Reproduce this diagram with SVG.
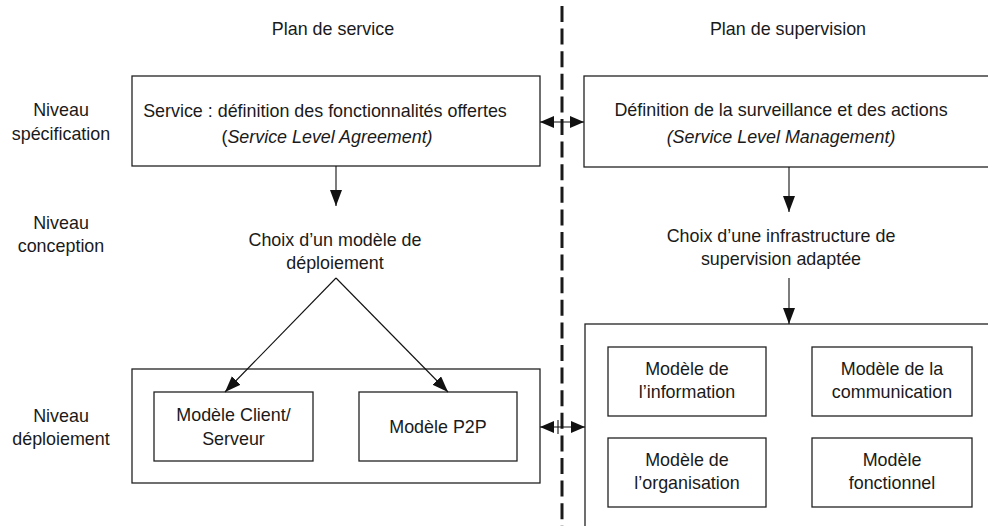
<svg xmlns="http://www.w3.org/2000/svg" width="988" height="526" viewBox="0 0 988 526">
<style>
  text { font-family: "Liberation Sans", Arial, sans-serif; font-size: 17.9px; fill: #1a1a1a; text-anchor: middle; }
  .it { font-style: italic; }
  .box { fill: #fff; stroke: #222; stroke-width: 1.3; }
  .ln { stroke: #111; stroke-width: 1.1; fill: none; }
  .sep { stroke: #1a1a1a; stroke-width: 3; stroke-dasharray: 16 6.6; fill: none; }
</style>
<defs>
  <marker id="ah" markerUnits="userSpaceOnUse" markerWidth="17" markerHeight="13" refX="16" refY="6" orient="auto-start-reverse">
    <path d="M0,0 L16,6 L0,12 z" fill="#111"/>
  </marker>
  <marker id="ahs" markerUnits="userSpaceOnUse" markerWidth="15" markerHeight="13" refX="14" refY="6" orient="auto-start-reverse">
    <path d="M0,0 L14,6 L0,12 z" fill="#111"/>
  </marker>
</defs>
<rect width="988" height="526" fill="#fff"/>

<g id="headers">
  <text x="333" y="35">Plan de service</text>
  <text x="788" y="35">Plan de supervision</text>
</g>

<g id="levels">
  <text x="61" y="116">Niveau</text>
  <text x="61" y="140">spécification</text>
  <text x="61" y="229">Niveau</text>
  <text x="61" y="252">conception</text>
  <text x="61" y="422">Niveau</text>
  <text x="61" y="445">déploiement</text>
</g>

<g id="separator">
  <line class="sep" x1="562" y1="6" x2="562" y2="526"/>
</g>

<g id="sla">
  <rect class="box" x="132" y="76" width="408" height="90"/>
  <text x="325" y="117">Service : définition des fonctionnalités offertes</text>
  <text x="327" y="143">(<tspan class="it">Service Level Agreement)</tspan></text>
</g>

<g id="slm">
  <rect class="box" x="584" y="76" width="410" height="91"/>
  <text x="781" y="116">Définition de la surveillance et des actions</text>
  <text x="781" y="143" class="it">(Service Level Management)</text>
</g>

<g id="choix-modele">
  <text x="335" y="246">Choix d’un modèle de</text>
  <text x="335" y="269">déploiement</text>
</g>

<g id="choix-infra">
  <text x="781" y="242">Choix d’une infrastructure de</text>
  <text x="781" y="265">supervision adaptée</text>
</g>

<g id="deploiement">
  <rect class="box" x="132" y="369" width="408" height="114"/>
</g>
<g id="client-serveur">
  <rect class="box" x="154" y="392" width="159" height="69"/>
  <text x="233.5" y="421">Modèle Client/</text>
  <text x="233.5" y="445">Serveur</text>
</g>
<g id="p2p">
  <rect class="box" x="359" y="392" width="158" height="69"/>
  <text x="438" y="433">Modèle P2P</text>
</g>

<g id="supervision">
  <rect class="box" x="585" y="324" width="410" height="210"/>
</g>
<g id="information">
  <rect class="box" x="608" y="347" width="158" height="69"/>
  <text x="687" y="375">Modèle de</text>
  <text x="687" y="398">l’information</text>
</g>
<g id="communication">
  <rect class="box" x="812" y="347" width="160" height="69"/>
  <text x="892" y="375">Modèle de la</text>
  <text x="892" y="398">communication</text>
</g>
<g id="organisation">
  <rect class="box" x="608" y="438" width="158" height="69"/>
  <text x="687" y="466">Modèle de</text>
  <text x="687" y="489">l’organisation</text>
</g>
<g id="fonctionnel">
  <rect class="box" x="812" y="438" width="160" height="69"/>
  <text x="892" y="466">Modèle</text>
  <text x="892" y="489">fonctionnel</text>
</g>

<g id="connectors">
  <line class="ln" x1="336" y1="166" x2="336" y2="206" marker-end="url(#ah)"/>
  <line class="ln" x1="789" y1="167" x2="789" y2="212" marker-end="url(#ah)"/>
  <line class="ln" x1="789" y1="278" x2="789" y2="324" marker-end="url(#ah)"/>
  <line class="ln" x1="336" y1="278" x2="225" y2="392" marker-end="url(#ah)"/>
  <line class="ln" x1="336" y1="278" x2="448" y2="392" marker-end="url(#ah)"/>
  <line class="ln" x1="540" y1="122" x2="584" y2="122" marker-start="url(#ahs)" marker-end="url(#ahs)"/>
  <line class="ln" x1="540" y1="427" x2="585" y2="427" marker-start="url(#ahs)" marker-end="url(#ahs)"/>
  <line class="ln" x1="558" y1="420" x2="558" y2="434"/>
</g>
</svg>
